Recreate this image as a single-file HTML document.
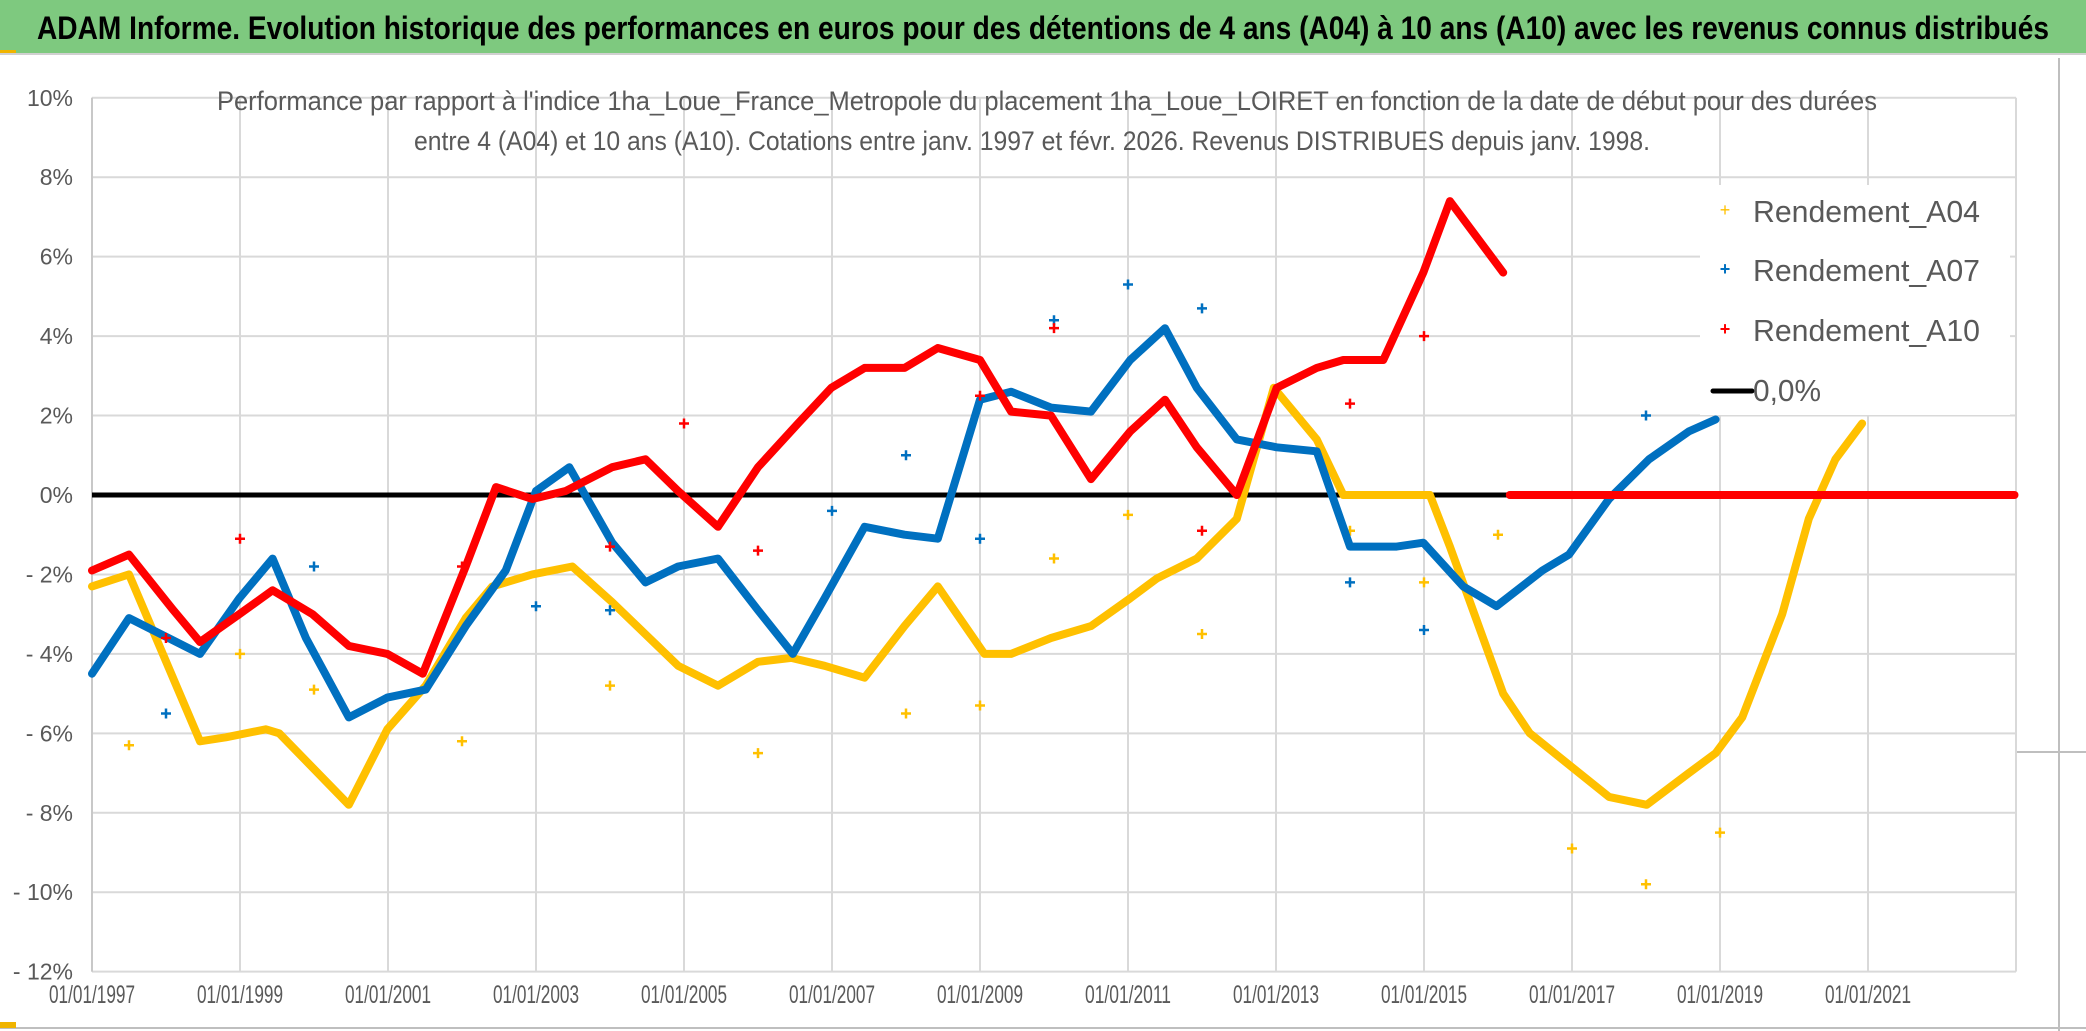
<!DOCTYPE html>
<html><head><meta charset="utf-8"><style>
html,body{margin:0;padding:0;background:#fff;}
svg{display:block;}
text{font-family:"Liberation Sans",sans-serif;}
</style></head><body>
<svg id="chart" width="2086" height="1031" viewBox="0 0 2086 1031" xmlns="http://www.w3.org/2000/svg">
<rect x="0" y="0" width="2086" height="1031" fill="#fff"/>
<rect x="0" y="0" width="2086" height="53" fill="#7ec97f"/>
<line x1="0" y1="54" x2="2086" y2="54" stroke="#d0d0d0" stroke-width="2"/>
<rect x="0" y="50" width="16" height="3" fill="#f0b400"/>
<text x="37" y="39" font-size="32" font-weight="bold" fill="#000" textLength="2012" lengthAdjust="spacingAndGlyphs">ADAM Informe. Evolution historique des performances en euros pour des détentions de 4 ans (A04) à 10 ans (A10) avec les revenus connus distribués</text>
<line x1="2059" y1="58" x2="2059" y2="1031" stroke="#bfbfbf" stroke-width="2"/>
<line x1="2016" y1="752" x2="2086" y2="752" stroke="#bfbfbf" stroke-width="2"/>
<line x1="0" y1="1028" x2="2086" y2="1028" stroke="#bfbfbf" stroke-width="2"/>
<rect x="0" y="1022" width="16" height="6" fill="#f0b400"/>
<g id="grid"></g>
<g id="axes"></g>
<rect x="1700" y="185" width="310" height="230" fill="#fff"/>
<text x="1047" y="110" font-size="27" fill="#595959" text-anchor="middle" textLength="1660" lengthAdjust="spacingAndGlyphs">Performance par rapport à l'indice 1ha_Loue_France_Metropole  du placement 1ha_Loue_LOIRET en fonction de la date de début pour des durées</text>
<text x="1032" y="150" font-size="27" fill="#595959" text-anchor="middle" textLength="1236" lengthAdjust="spacingAndGlyphs">entre 4 (A04) et 10 ans (A10). Cotations entre janv. 1997 et févr. 2026. Revenus DISTRIBUES depuis janv. 1998.</text>
<g id="series"></g>
<g id="legend">
<text x="1725" y="216" font-size="18" fill="#ffc000" text-anchor="middle">+</text>
<text x="1753" y="222" font-size="31" fill="#595959" textLength="227" lengthAdjust="spacingAndGlyphs">Rendement_A04</text>
<text x="1725" y="275" font-size="18" fill="#0070c0" text-anchor="middle" font-weight="bold">+</text>
<text x="1753" y="281" font-size="31" fill="#595959" textLength="227" lengthAdjust="spacingAndGlyphs">Rendement_A07</text>
<text x="1725" y="335" font-size="18" fill="#ff0000" text-anchor="middle" font-weight="bold">+</text>
<text x="1753" y="341" font-size="31" fill="#595959" textLength="227" lengthAdjust="spacingAndGlyphs">Rendement_A10</text>
<line x1="1713" y1="391" x2="1752" y2="391" stroke="#000" stroke-width="5" stroke-linecap="round"/>
<text x="1753" y="401" font-size="31" fill="#595959" textLength="68" lengthAdjust="spacingAndGlyphs">0,0%</text>
</g>
</svg>
<script>
const yTicks = [10, 8, 6, 4, 2, 0, -2, -4, -6, -8, -10, -12];
const yTickLabels = ["10%", "8%", "6%", "4%", "2%", "0%", "- 2%", "- 4%", "- 6%", "- 8%", "- 10%", "- 12%"];
const xTicks = [1997, 1999, 2001, 2003, 2005, 2007, 2009, 2011, 2013, 2015, 2017, 2019, 2021];
const xTickLabels = ["01/01/1997","01/01/1999","01/01/2001","01/01/2003","01/01/2005","01/01/2007","01/01/2009","01/01/2011","01/01/2013","01/01/2015","01/01/2017","01/01/2019","01/01/2021"];

const a04Dates = [1997.00,1997.50,1998.46,1998.81,1999.35,1999.53,2000.47,2000.99,2001.51,2002.05,2002.41,2002.95,2003.49,2004.03,2004.92,2005.46,2006.00,2006.45,2006.90,2007.44,2007.98,2008.43,2009.06,2009.42,2009.96,2010.50,2011.03,2011.39,2011.93,2012.47,2012.97,2013.55,2013.91,2014.63,2015.08,2015.35,2016.07,2016.43,2017.50,2018.01,2018.58,2018.94,2019.30,2019.84,2020.20,2020.56,2020.92];
const a04Values = [-2.3,-2.0,-6.2,-6.1,-5.9,-6.0,-7.8,-5.9,-4.8,-3.1,-2.3,-2.0,-1.8,-2.7,-4.3,-4.8,-4.2,-4.1,-4.3,-4.6,-3.3,-2.3,-4.0,-4.0,-3.6,-3.3,-2.6,-2.1,-1.6,-0.6,2.7,1.4,0.0,0.0,0.0,-1.3,-5.0,-6.0,-7.6,-7.8,-7.0,-6.5,-5.6,-3.0,-0.6,0.9,1.8];
const a04OutDates = [1997.5,1999.0,2000.0,2002.0,2004.0,2006.0,2008.0,2009.0,2010.0,2011.0,2012.0,2014.0,2015.0,2016.0,2017.0,2018.0,2019.0];
const a04OutValues = [-6.3,-4.0,-4.9,-6.2,-4.8,-6.5,-5.5,-5.3,-1.6,-0.5,-3.5,-0.9,-2.2,-1.0,-8.9,-9.8,-8.5];

const a07Dates = [1997.00,1997.50,1998.46,1998.99,1999.44,1999.89,2000.47,2000.99,2001.51,2002.05,2002.59,2003.00,2003.45,2004.03,2004.48,2004.92,2005.46,2006.00,2006.47,2006.90,2007.44,2007.98,2008.43,2009.00,2009.42,2009.96,2010.50,2011.03,2011.50,2011.93,2012.47,2013.01,2013.55,2014.00,2014.63,2014.99,2015.53,2015.98,2016.60,2016.96,2017.50,2018.04,2018.58,2018.94];
const a07Values = [-4.5,-3.1,-4.0,-2.6,-1.6,-3.6,-5.6,-5.1,-4.9,-3.3,-1.9,0.1,0.7,-1.2,-2.2,-1.8,-1.6,-2.9,-4.0,-2.6,-0.8,-1.0,-1.1,2.4,2.6,2.2,2.1,3.4,4.2,2.7,1.4,1.2,1.1,-1.3,-1.3,-1.2,-2.3,-2.8,-1.9,-1.5,-0.1,0.9,1.6,1.9];
const a07OutDates = [1998.0,2000.0,2003.0,2004.0,2007.0,2008.0,2009.0,2010.0,2011.0,2012.0,2014.0,2015.0,2018.0];
const a07OutValues = [-5.5,-1.8,-2.8,-2.9,-0.4,1.0,-1.1,4.4,5.3,4.7,-2.2,-3.4,2.0];

const a10Dates = [1997.00,1997.50,1998.10,1998.46,1998.99,1999.44,1999.98,2000.47,2000.99,2001.47,2002.05,2002.46,2002.95,2003.40,2004.03,2004.48,2004.92,2005.46,2006.00,2006.54,2006.99,2007.44,2007.98,2008.43,2009.00,2009.42,2009.96,2010.50,2011.03,2011.50,2011.93,2012.47,2013.01,2013.55,2013.91,2014.45,2014.99,2015.35,2016.07];
const a10Values = [-1.9,-1.5,-2.9,-3.7,-3.0,-2.4,-3.0,-3.8,-4.0,-4.5,-1.8,0.2,-0.1,0.1,0.7,0.9,0.1,-0.8,0.7,1.8,2.7,3.2,3.2,3.7,3.4,2.1,2.0,0.4,1.6,2.4,1.2,0.0,2.7,3.2,3.4,3.4,5.6,7.4,5.6];
const a10TailDates = [2016.16, 2022.98];
const a10TailValues = [0.0, 0.0];
const a10OutDates = [1998.0,1999.0,2002.0,2004.0,2005.0,2006.0,2009.0,2010.0,2012.0,2014.0,2015.0];
const a10OutValues = [-3.6,-1.1,-1.8,-1.3,1.8,-1.4,2.5,4.2,-0.9,2.3,4.0];

const NS = "http://www.w3.org/2000/svg";
const X0 = 92, XPY = 74.0, Y0 = 495, YPP = 39.72;
function xScale(d){ return X0 + (d - 1997) * XPY; }
function yScale(v){ return Y0 - v * YPP; }
const plotL = xScale(1997), plotR = xScale(2023), plotT = yScale(10), plotB = yScale(-12);

const grid = document.getElementById('grid');
const axes = document.getElementById('axes');
function mk(tag, attrs, parent){ const e = document.createElementNS(NS, tag); for (const k in attrs) e.setAttribute(k, attrs[k]); parent.appendChild(e); return e; }

yTicks.forEach((t, i) => {
  const ln = mk('line', {x1: plotL, x2: plotR, y1: yScale(t), y2: yScale(t), stroke: '#d9d9d9', 'stroke-width': 2}, grid);
  
  
  const tx = mk('text', {x: 73, y: yScale(t) + 8, 'font-size': 23, fill: '#595959', 'text-anchor': 'end'}, axes);
  tx.textContent = yTickLabels[i];
  
  
});
xTicks.concat([2023]).forEach(t => {
  const ln = mk('line', {x1: xScale(t), x2: xScale(t), y1: plotT, y2: plotB, stroke: '#d9d9d9', 'stroke-width': 2}, grid);
  
  
});
xTicks.forEach((t, i) => {
  const tx = mk('text', {x: xScale(t), y: 1003, 'font-size': 25, fill: '#595959', 'text-anchor': 'middle', textLength: 86, lengthAdjust: 'spacingAndGlyphs'}, axes);
  tx.textContent = xTickLabels[i];
  
  
});
const yAx = mk('line', {x1: plotL, x2: plotL, y1: plotT, y2: plotB, stroke: '#c8c8c8', 'stroke-width': 2}, axes);



const series = document.getElementById('series');
const zero = mk('line', {x1: plotL, x2: plotR, y1: yScale(0), y2: yScale(0), stroke: '#000', 'stroke-width': 5}, series);



function drawLine(dates, vals, color, name){
  const pts = dates.map((d, i) => xScale(d).toFixed(1) + ',' + yScale(vals[i]).toFixed(1)).join(' ');
  const pl = mk('polyline', {points: pts, fill: 'none', stroke: color, 'stroke-width': 8, 'stroke-linejoin': 'round', 'stroke-linecap': 'round'}, series);
  
  
}
function drawOutliers(outD, outV, color, name){
  outD.forEach((d, i) => {
    const cx = xScale(d), cy = yScale(outV[i]);
    const p = mk('path', {d: 'M' + (cx - 5) + ',' + cy + 'h10M' + cx + ',' + (cy - 5) + 'v10', stroke: color, 'stroke-width': 2.5}, series);
    
    
  });
}
drawLine(a04Dates, a04Values, '#ffc000', 'rendement-a04');
drawOutliers(a04OutDates, a04OutValues, '#ffc000', 'rendement-a04');
drawLine(a07Dates, a07Values, '#0070c0', 'rendement-a07');
drawOutliers(a07OutDates, a07OutValues, '#0070c0', 'rendement-a07');
drawLine(a10Dates, a10Values, '#ff0000', 'rendement-a10');
drawLine(a10TailDates, a10TailValues, '#ff0000', 'rendement-a10-tail');
drawOutliers(a10OutDates, a10OutValues, '#ff0000', 'rendement-a10');
</script>
</body></html>
